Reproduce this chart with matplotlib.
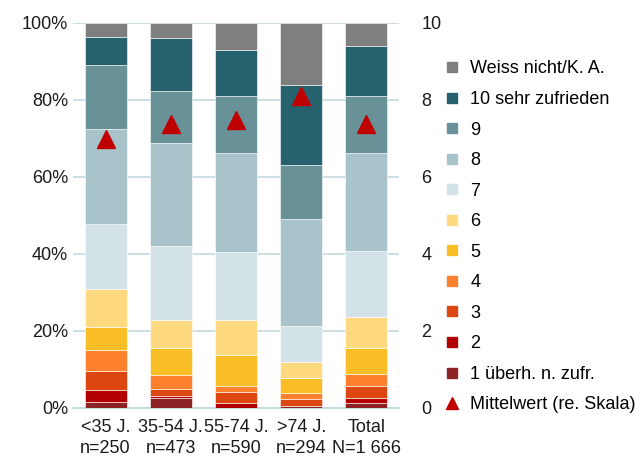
import numpy as np
import matplotlib
matplotlib.use('Agg')
import matplotlib.pyplot as plt
from matplotlib.lines import Line2D
from matplotlib.ticker import PercentFormatter

plt.rcParams['font.family'] = ['Liberation Sans', 'DejaVu Sans']

# Data
groups = ['<35 J.\nn=250', '35-54 J.\nn=473', '55-74 J.\nn=590', '>74 J.\nn=294', 'Total\nN=1 666']
categories = ['1 überh. n. zufr.', '2', '3', '4', '5', '6', '7', '8', '9',
              '10 sehr zufrieden', 'Weiss nicht/K. A.']
shares = {
    '1 überh. n. zufr.': [1.6, 2.6, 0.1, 0.5, 1.3],
    '2': [3.2, 0.6, 1.3, 0.1, 1.4],
    '3': [4.8, 1.8, 2.8, 1.8, 2.9],
    '4': [5.4, 3.6, 1.6, 1.6, 3.3],
    '5': [6.0, 7.1, 8.0, 3.9, 6.8],
    '6': [9.9, 7.1, 9.1, 4.1, 8.0],
    '7': [16.9, 19.4, 17.5, 9.3, 17.1],
    '8': [24.7, 26.7, 25.8, 27.7, 25.5],
    '9': [16.6, 13.5, 14.9, 14.2, 14.7],
    '10 sehr zufrieden': [7.3, 13.6, 11.8, 20.7, 12.9],
    'Weiss nicht/K. A.': [3.6, 4.0, 7.1, 16.1, 6.1],
}
means = [6.98, 7.38, 7.47, 8.10, 7.38]

colors = ['#8b2326', '#b30000', '#dc4610', '#fd812c', '#f9bd26', '#fed97f',
          '#d3e2e6', '#a8c4ca', '#689198', '#25626e', '#7f7f7f']

fig = plt.figure(figsize=(6.42, 4.58), dpi=100)
ax = fig.add_axes([0.1137, 0.1092, 0.5078, 0.8406])

x = np.arange(len(groups))
bottom = np.zeros(len(groups))
for cat, col in zip(categories, colors):
    vals = np.array(shares[cat]) / 100
    ax.bar(x, vals, 0.646, bottom=bottom, color=col, edgecolor='white',
           linewidth=0.4, zorder=3)
    bottom += vals

ax.set_xlim(-0.5, 4.5)
ax.set_ylim(0, 1)
ax.set_yticks(np.arange(0, 1.01, 0.2))
ax.yaxis.set_major_formatter(PercentFormatter(1.0, decimals=0))
ax.set_xticks(x)
ax.set_xticklabels(groups, fontsize=13, linespacing=1.27)
ax.tick_params(axis='both', length=0, labelsize=13, colors='#1a1a1a')
ax.tick_params(axis='x', pad=8)
ax.grid(axis='y', color='#c5d9df', linewidth=1.2, zorder=0)
for s in ['left', 'right', 'top']:
    ax.spines[s].set_visible(False)
ax.spines['bottom'].set_color('#c5d9df')
ax.spines['bottom'].set_linewidth(1.5)

# Mittelwert on right scale
ax2 = ax.twinx()
ax2.set_ylim(0, 10)
ax2.set_yticks(range(0, 11, 2))
ax2.tick_params(axis='y', length=0, labelsize=13, colors='#1a1a1a', pad=16)
for s in ax2.spines.values():
    s.set_visible(False)
ax2.plot(x, means, linestyle='none', marker='^', markersize=13,
         color='#c00000', zorder=5)

# Legend
handles = [Line2D([], [], linestyle='none', marker='s', markersize=7.5,
                  color=col) for col in colors[::-1]]
labels = categories[::-1]
handles.append(Line2D([], [], linestyle='none', marker='^', markersize=8,
                      color='#c00000'))
labels.append('Mittelwert (re. Skala)')
fig.legend(handles, labels, loc='upper left', bbox_to_anchor=(0.693, 0.868),
           frameon=False, fontsize=13, labelspacing=0.75, handlelength=0.8,
           handletextpad=0.6, borderpad=0, borderaxespad=0)

plt.savefig('out.png', dpi=100)
